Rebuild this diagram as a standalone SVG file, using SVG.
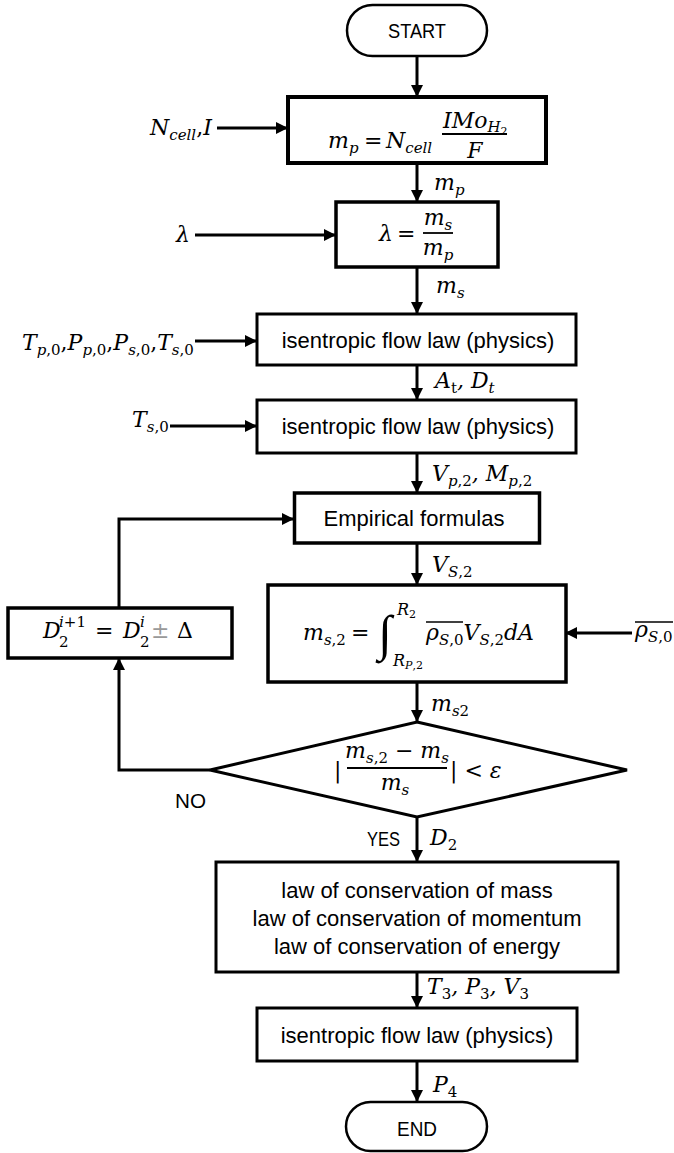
<svg xmlns="http://www.w3.org/2000/svg" width="674" height="1153" viewBox="0 0 674 1153">
<style>
.t{font-family:"Liberation Sans",Arial,sans-serif;font-size:22px;fill:#000}
.c{text-anchor:middle}
.m{font-family:"DejaVu Serif",serif;font-style:italic;font-size:22px;fill:#000}
.u{font-style:normal}
.s{font-size:15px}
.ss{font-size:11px}
.lim{font-size:16px}
.box{fill:#fff;stroke:#000;stroke-width:3}
.term{fill:#fff;stroke:#000;stroke-width:2.5}
.ln{fill:none;stroke:#000;stroke-width:3}
.bar{stroke:#000;stroke-width:1.8}
.cap{font-size:20px}
</style>
<defs>
<marker id="ah" markerUnits="userSpaceOnUse" markerWidth="14" markerHeight="14" refX="12" refY="6" orient="auto">
<path d="M0,0 L12,6 L0,12 z" fill="#000"/>
</marker>
</defs>

<g id="connectors">
<line class="ln" x1="417" y1="56" x2="417" y2="97" marker-end="url(#ah)"/>
<line class="ln" x1="417" y1="163" x2="417" y2="202" marker-end="url(#ah)"/>
<line class="ln" x1="417" y1="267" x2="417" y2="314" marker-end="url(#ah)"/>
<line class="ln" x1="417" y1="365" x2="417" y2="400" marker-end="url(#ah)"/>
<line class="ln" x1="417" y1="453" x2="417" y2="493" marker-end="url(#ah)"/>
<line class="ln" x1="417" y1="543" x2="417" y2="585" marker-end="url(#ah)"/>
<line class="ln" x1="417" y1="682" x2="417" y2="722" marker-end="url(#ah)"/>
<line class="ln" x1="417" y1="817" x2="417" y2="862" marker-end="url(#ah)"/>
<line class="ln" x1="417" y1="972" x2="417" y2="1008" marker-end="url(#ah)"/>
<line class="ln" x1="417" y1="1061" x2="417" y2="1102" marker-end="url(#ah)"/>
<line class="ln" x1="217" y1="128" x2="288" y2="128" marker-end="url(#ah)"/>
<line class="ln" x1="195" y1="235" x2="336" y2="235" marker-end="url(#ah)"/>
<line class="ln" x1="195" y1="341" x2="257" y2="341" marker-end="url(#ah)"/>
<line class="ln" x1="170" y1="426" x2="257" y2="426" marker-end="url(#ah)"/>
<line class="ln" x1="632" y1="633" x2="565" y2="633" marker-end="url(#ah)"/>
<polyline class="ln" points="210,770 119,770 119,658" marker-end="url(#ah)"/>
<polyline class="ln" points="119,608 119,519 294,519" marker-end="url(#ah)"/>
<text class="m" x="434" y="190">m<tspan class="s" dy="5">p</tspan></text>
<text class="m" x="436" y="293">m<tspan class="s" dy="5">s</tspan></text>
<text class="m" x="435" y="388">A<tspan class="s u" dy="5">t</tspan><tspan dy="-5">, D</tspan><tspan class="s" dy="5">t</tspan></text>
<text class="m" x="432" y="481">V<tspan class="s" dy="5">p<tspan class="u">,2</tspan></tspan><tspan dy="-5">, M</tspan><tspan class="s" dy="5">p<tspan class="u">,2</tspan></tspan></text>
<text class="m" x="432" y="572">V<tspan class="s" dy="5">S<tspan class="u">,2</tspan></tspan></text>
<text class="m" x="431" y="711">m<tspan class="s" dy="5">s<tspan class="u">2</tspan></tspan></text>
<text class="m" x="430" y="845">D<tspan class="s u" dy="5">2</tspan></text>
<text class="m" x="427" y="994">T<tspan class="s u" dy="5">3</tspan><tspan dy="-5">, P</tspan><tspan class="s u" dy="5">3</tspan><tspan dy="-5">, V</tspan><tspan class="s u" dy="5">3</tspan></text>
<text class="m" x="433" y="1092">P<tspan class="s u" dy="5">4</tspan></text>
<text class="t cap" x="367" y="846" textLength="33" lengthAdjust="spacingAndGlyphs">YES</text>
<text class="t cap" x="175" y="808" textLength="31" lengthAdjust="spacingAndGlyphs">NO</text>
</g>

<g id="inputs">
<text class="m" x="150" y="135">N<tspan class="s" dy="5">cell</tspan><tspan dy="-5" class="u">,</tspan>I</text>
<text class="m" x="176" y="242">λ</text>
<text class="m" x="22" y="350">T<tspan class="s" dy="5">p<tspan class="u">,0</tspan></tspan><tspan dy="-5" class="u">,</tspan>P<tspan class="s" dy="5">p<tspan class="u">,0</tspan></tspan><tspan dy="-5" class="u">,</tspan>P<tspan class="s" dy="5">s<tspan class="u">,0</tspan></tspan><tspan dy="-5" class="u">,</tspan>T<tspan class="s" dy="5">s<tspan class="u">,0</tspan></tspan></text>
<text class="m" x="132" y="427">T<tspan class="s" dy="5">s<tspan class="u">,0</tspan></tspan></text>
<text class="m" x="635" y="637">ρ<tspan class="s" dy="5">S<tspan class="u">,0</tspan></tspan></text>
<line class="bar" x1="635" y1="622" x2="673" y2="622" style="stroke-width:1.5"/>
</g>

<g id="start">
<rect class="term" x="347" y="5" width="140" height="51" rx="25.5"/>
<text class="t c cap" x="417" y="38" textLength="58" lengthAdjust="spacingAndGlyphs">START</text>
</g>

<g id="box1">
<rect class="box" x="288" y="97" width="258" height="66" style="stroke-width:4"/>
<text class="m" x="328" y="148">m<tspan class="s" dy="5">p</tspan></text>
<text class="m u" x="364" y="148">=</text>
<text class="m" x="386" y="148">N<tspan class="s" dy="5">cell</tspan></text>
<line class="bar" x1="442" y1="134" x2="507" y2="134"/>
<text class="m" x="443" y="128">IMo<tspan class="s" dy="4">H</tspan><tspan class="ss u" dy="3">2</tspan></text>
<text class="m c" x="475" y="158">F</text>
</g>

<g id="box2">
<rect class="box" x="336" y="202" width="162" height="65" style="stroke-width:3.5"/>
<text class="m" x="379" y="241">λ</text>
<text class="m u" x="397" y="241">=</text>
<line class="bar" x1="423" y1="233" x2="453" y2="233"/>
<text class="m c" x="438" y="225">m<tspan class="s" dy="5">s</tspan></text>
<text class="m c" x="438" y="255">m<tspan class="s" dy="5">p</tspan></text>
</g>

<g id="box3">
<rect class="box" x="257" y="314" width="319" height="51"/>
<text class="t c" x="418" y="348">isentropic flow law (physics)</text>
</g>

<g id="box4">
<rect class="box" x="257" y="400" width="319" height="53"/>
<text class="t c" x="418" y="434">isentropic flow law (physics)</text>
</g>

<g id="box5">
<rect class="box" x="294.5" y="493" width="245" height="50" style="stroke-width:3.5"/>
<text class="t c" x="414" y="526">Empirical formulas</text>
</g>

<g id="box6">
<rect class="box" x="268" y="585" width="298" height="97" style="stroke-width:3.5"/>
<text class="m" x="303" y="640">m<tspan class="s" dy="5">s<tspan class="u">,2</tspan></tspan></text>
<text class="m u" x="351" y="640">=</text>
<text x="378" y="650" style="font-family:'Liberation Serif',serif;font-size:50px">∫</text>
<text class="m lim" x="397" y="615">R<tspan class="ss u" dy="3">2</tspan></text>
<text class="m lim" x="393" y="666">R<tspan class="ss" dy="3">P<tspan class="u">,2</tspan></tspan></text>
<text class="m" x="426" y="640">ρ<tspan class="s" dy="5">S<tspan class="u">,0</tspan></tspan><tspan dy="-5">V</tspan><tspan class="s" dy="5">S<tspan class="u">,2</tspan></tspan><tspan dy="-5">dA</tspan></text>
<line class="bar" x1="426" y1="622" x2="463" y2="622" style="stroke-width:1.5"/>
</g>

<g id="update">
<rect class="box" x="8" y="608" width="224" height="50" style="stroke-width:3.5"/>
<text class="m" x="43" y="638">D</text>
<text class="m s" x="59" y="627">i<tspan class="u">+1</tspan></text>
<text class="m s u" x="59" y="647">2</text>
<text class="m u" x="95" y="638">=</text>
<text class="m" x="123" y="638">D</text>
<text class="m s" x="140" y="627">i</text>
<text class="m s u" x="140" y="647">2</text>
<text class="m u" x="151" y="638" style="fill:#999">±</text>
<text class="m u" x="177" y="638">Δ</text>
</g>

<g id="decision">
<polygon class="box" points="417,722 627,770 417,817 210,770"/>
<text class="m u" x="334" y="778">|</text>
<line class="bar" x1="347" y1="768" x2="447" y2="768"/>
<text class="m c" x="397" y="758">m<tspan class="s" dy="5">s<tspan class="u">,2</tspan></tspan><tspan dy="-5" class="u"> − </tspan>m<tspan class="s" dy="5">s</tspan></text>
<text class="m c" x="395" y="790">m<tspan class="s" dy="5">s</tspan></text>
<text class="m" x="450" y="778"><tspan class="u">| &lt; </tspan>ε</text>
</g>

<g id="box7">
<rect class="box" x="216" y="862" width="402" height="110"/>
<text class="t c" x="417" y="898">law of conservation of mass</text>
<text class="t c" x="417" y="926">law of conservation of momentum</text>
<text class="t c" x="417" y="954">law of conservation of energy</text>
</g>

<g id="box8">
<rect class="box" x="257" y="1008" width="320" height="53"/>
<text class="t c" x="417" y="1043">isentropic flow law (physics)</text>
</g>

<g id="end">
<rect class="term" x="346" y="1102" width="141" height="49" rx="24.5"/>
<text class="t c cap" x="417" y="1136" textLength="40" lengthAdjust="spacingAndGlyphs">END</text>
</g>
</svg>
